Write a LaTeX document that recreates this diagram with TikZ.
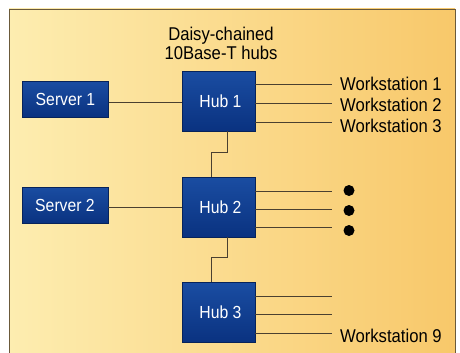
\documentclass[tikz,border=0pt]{standalone}
\usepackage{fontspec}
\setmainfont{Liberation Sans}
\usepackage{graphicx}
\definecolor{bgL}{HTML}{FDEDB0}
\definecolor{bgR}{HTML}{F8C86A}
\definecolor{boxD}{HTML}{0A3280}
\definecolor{boxL}{HTML}{1A4DA2}
\definecolor{wire}{HTML}{4A4030}
\definecolor{frame}{HTML}{6B5A3A}
\newcommand{\cnd}[1]{\scalebox{0.9}[1]{#1}}
\begin{document}
\begin{tikzpicture}[x=1pt,y=-1pt,
  blk/.style={draw=boxD!70!black, line width=0.4pt, top color=boxL, bottom color=boxD, text=white, font=\fontsize{17.5}{20}\selectfont, inner sep=0pt},
  hubbox/.style={blk, minimum width=73pt, minimum height=60pt},
  srvbox/.style={blk, minimum width=86pt, minimum height=36pt},
  wl/.style={draw=wire, line width=0.7pt},
  lbl/.style={font=\fontsize{18.5}{20}\selectfont, text=black, inner sep=0pt, anchor=west},
  dotn/.style={circle, fill=black, minimum size=11pt, inner sep=0pt}]
\useasboundingbox (0,0) rectangle (460,353);
\fill[white] (0,0) rectangle (460,353);
\shade[left color=bgL, right color=bgR] (9,9) rectangle (455,353);
\draw[frame, line width=0.7pt] (9,353) -- (9,9) -- (455,9) -- (455,353);
% title
\node[font=\fontsize{18.5}{20}\selectfont, align=center, inner sep=0pt] (title) at (221,43) {\cnd{Daisy-chained}\\[-1pt]\cnd{10Base-T hubs}};
% hubs and servers
\node[hubbox] (hub1) at (218.5,101) {\hspace*{4pt}\cnd{Hub 1}};
\node[hubbox] (hub2) at (218.5,207) {\hspace*{4pt}\cnd{Hub 2}};
\node[hubbox] (hub3) at (218.5,312.5) {\hspace*{4pt}\cnd{Hub 3}};
\node[srvbox] (srv1) at (65.5,99) {\cnd{Server 1}};
\node[srvbox] (srv2) at (65,205) {\cnd{Server 2}};
% server links
\draw[wl] (srv1.east |- 0,102) -- (hub1.west |- 0,102);
\draw[wl] (srv2.east |- 0,207) -- (hub2.west |- 0,207);
% daisy chain
\draw[wl] (227,131) |- (211,152) -- (hub2.north -| 211,0);
\draw[wl] (227,237) |- (211,257) -- (hub3.north -| 211,0);
% workstation ends
\coordinate (e1) at (332,84);
\coordinate (e2) at (332,103);
\coordinate (e3) at (332,122);
\coordinate (e4) at (332,191);
\coordinate (e5) at (332,209);
\coordinate (e6) at (332,227);
\coordinate (e7) at (332,296);
\coordinate (e8) at (332,314);
\coordinate (e9) at (332,333);
\foreach \i/\y in {1/84,2/103,3/122} \draw[wl] (hub1.east |- 0,\y) -- (e\i);
\foreach \i/\y in {4/191,5/209,6/227} \draw[wl] (hub2.east |- 0,\y) -- (e\i);
\foreach \i/\y in {7/296,8/314,9/333} \draw[wl] (hub3.east |- 0,\y) -- (e\i);
\node[lbl] (w1) at (340,83.5) {\cnd{Workstation 1}};
\node[lbl] (w2) at (340,105) {\cnd{Workstation 2}};
\node[lbl] (w3) at (340,126) {\cnd{Workstation 3}};
\node[lbl] (w9) at (340,336) {\cnd{Workstation 9}};
\node[dotn] (d1) at (349,190.5) {};
\node[dotn] (d2) at (349,210.5) {};
\node[dotn] (d3) at (349,230.5) {};
\end{tikzpicture}
\end{document}
